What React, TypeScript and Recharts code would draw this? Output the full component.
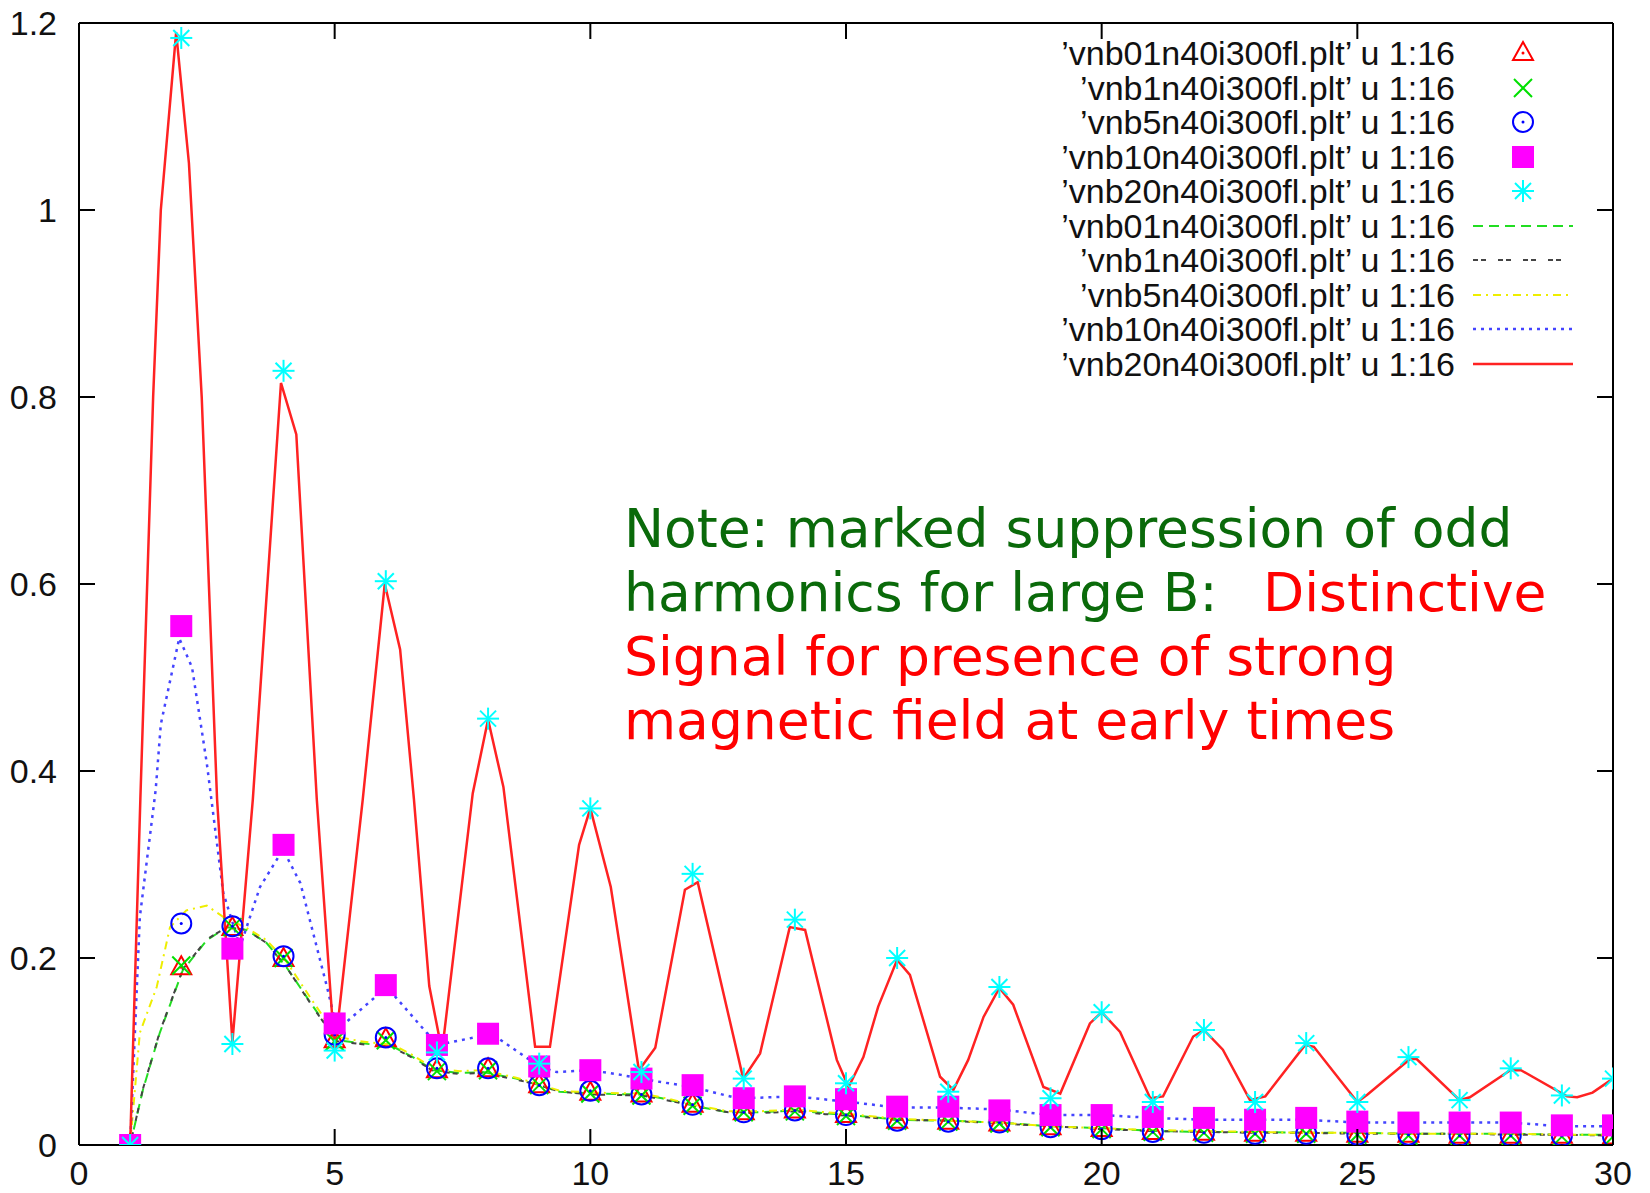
import { ComposedChart, Line, Scatter, XAxis, YAxis, Legend, Customized } from 'recharts'

// harmonic number n and v_n for each B value (markers, column 16 of each file)
const harmonic = [1, 2, 3, 4, 5, 6, 7, 8, 9, 10, 11, 12, 13, 14, 15, 16, 17, 18, 19, 20, 21, 22, 23, 24, 25, 26, 27, 28, 29, 30]
const vnb01 = [0, 0.19, 0.232, 0.199, 0.112, 0.113, 0.08, 0.081, 0.064, 0.056, 0.054, 0.043, 0.035, 0.037, 0.032, 0.026, 0.025, 0.023, 0.019, 0.017, 0.014, 0.013, 0.012, 0.012, 0.011, 0.011, 0.01, 0.01, 0.01, 0.009]
const vnb1 = [0, 0.192, 0.233, 0.2, 0.111, 0.112, 0.079, 0.08, 0.064, 0.055, 0.053, 0.042, 0.035, 0.036, 0.031, 0.026, 0.025, 0.023, 0.019, 0.017, 0.014, 0.013, 0.012, 0.012, 0.011, 0.01, 0.01, 0.01, 0.009, 0.009]
const vnb5 = [0, 0.237, 0.234, 0.202, 0.118, 0.115, 0.082, 0.082, 0.064, 0.058, 0.054, 0.043, 0.035, 0.037, 0.032, 0.026, 0.025, 0.024, 0.019, 0.017, 0.014, 0.013, 0.012, 0.012, 0.011, 0.011, 0.01, 0.01, 0.01, 0.009]
const vnb10 = [0, 0.555, 0.21, 0.321, 0.13, 0.171, 0.107, 0.119, 0.084, 0.08, 0.071, 0.064, 0.05, 0.052, 0.049, 0.041, 0.041, 0.037, 0.032, 0.032, 0.03, 0.029, 0.027, 0.029, 0.025, 0.024, 0.024, 0.024, 0.021, 0.021]
const vnb20 = [0, 1.184, 0.108, 0.828, 0.101, 0.603, 0.099, 0.456, 0.087, 0.36, 0.078, 0.29, 0.071, 0.241, 0.066, 0.2, 0.057, 0.169, 0.05, 0.142, 0.046, 0.123, 0.046, 0.109, 0.046, 0.094, 0.048, 0.082, 0.053, 0.071]

// finer line data
const lineX01 = [1, 1.25, 1.58, 2.03, 2.5, 2.89, 3.28, 3.67, 4.06, 4.58, 5.04, 5.5, 6.15, 6.53, 6.93, 7.45, 7.9, 8.55, 9, 9.4, 10.05, 11, 11.4, 12.1, 12.7, 13.3, 14, 14.6, 15.1, 16, 17, 18, 19, 20, 21, 22, 23, 24, 25, 26, 27, 28, 29, 30]
const lineY01 = [0, 0.059, 0.12, 0.187, 0.219, 0.233, 0.23, 0.216, 0.19, 0.148, 0.112, 0.109, 0.105, 0.094, 0.08, 0.077, 0.078, 0.071, 0.064, 0.057, 0.055, 0.054, 0.05, 0.041, 0.035, 0.035, 0.037, 0.034, 0.032, 0.027, 0.026, 0.024, 0.02, 0.018, 0.015, 0.014, 0.014, 0.013, 0.013, 0.012, 0.012, 0.012, 0.011, 0.011]
const lineX1 = [1, 1.25, 1.58, 2.03, 2.5, 2.89, 3.28, 3.67, 4.06, 4.58, 5.04, 5.5, 6.15, 6.53, 6.93, 7.45, 7.9, 8.55, 9, 9.4, 10.05, 11, 11.4, 12.1, 12.7, 13.3, 14, 14.6, 15.1, 16, 17, 18, 19, 20, 21, 22, 23, 24, 25, 26, 27, 28, 29, 30]
const lineY1 = [0, 0.06, 0.121, 0.188, 0.22, 0.233, 0.23, 0.216, 0.19, 0.147, 0.111, 0.108, 0.104, 0.093, 0.079, 0.076, 0.077, 0.07, 0.064, 0.057, 0.054, 0.053, 0.049, 0.041, 0.035, 0.034, 0.036, 0.033, 0.031, 0.027, 0.026, 0.023, 0.02, 0.017, 0.015, 0.014, 0.013, 0.013, 0.012, 0.012, 0.012, 0.011, 0.011, 0.01]
const lineX5 = [1, 1.19, 1.52, 1.78, 2.1, 2.5, 2.82, 3.28, 3.67, 4.06, 4.58, 5.04, 5.5, 6.15, 6.53, 6.93, 7.45, 7.9, 8.55, 9, 9.4, 10.05, 11, 11.4, 12.1, 12.7, 13.3, 14, 14.6, 15.1, 16, 17, 18, 19, 20, 21, 22, 23, 24, 25, 26, 27, 28, 29, 30]
const lineY5 = [0, 0.12, 0.169, 0.233, 0.251, 0.256, 0.244, 0.232, 0.219, 0.196, 0.153, 0.116, 0.111, 0.107, 0.096, 0.082, 0.079, 0.08, 0.072, 0.065, 0.058, 0.056, 0.055, 0.051, 0.042, 0.036, 0.036, 0.038, 0.035, 0.033, 0.028, 0.026, 0.024, 0.02, 0.018, 0.016, 0.015, 0.014, 0.013, 0.013, 0.012, 0.012, 0.012, 0.011, 0.011]
const lineX10 = [1, 1.19, 1.5, 1.6, 1.96, 2.21, 2.5, 2.82, 3.15, 3.54, 3.99, 4.33, 4.85, 5.05, 6.02, 6.8, 7.1, 8, 8.2, 9, 9.34, 10, 10.6, 11.3, 12, 12.8, 13, 14, 15.08, 16, 17, 18, 19, 20, 21, 22, 23, 24, 25, 26, 27, 28, 29, 30]
const lineY10 = [0, 0.244, 0.38, 0.45, 0.542, 0.511, 0.408, 0.27, 0.212, 0.276, 0.316, 0.28, 0.169, 0.123, 0.169, 0.12, 0.108, 0.118, 0.114, 0.084, 0.078, 0.08, 0.075, 0.068, 0.062, 0.051, 0.05, 0.052, 0.046, 0.04, 0.04, 0.038, 0.032, 0.032, 0.029, 0.027, 0.027, 0.027, 0.024, 0.024, 0.024, 0.024, 0.02, 0.02]
const lineX20 = [1, 1.2, 1.45, 1.6, 1.9, 2.15, 2.4, 2.7, 3, 3.4, 3.95, 4.25, 4.65, 5, 5.55, 5.98, 6.28, 6.55, 6.85, 7.1, 7.7, 8, 8.3, 8.92, 9.21, 9.78, 10, 10.4, 10.95, 11.27, 11.85, 12.1, 12.99, 13.32, 13.9, 14.2, 14.82, 15.05, 15.34, 15.63, 16, 16.25, 16.84, 17.1, 17.39, 17.69, 18, 18.27, 18.86, 19.19, 19.77, 20, 20.36, 20.95, 21.2, 21.79, 22, 22.37, 22.9, 23.2, 23.98, 24.15, 25, 25.2, 26.03, 26.16, 27, 27.2, 27.99, 28.2, 29.1, 29.3, 29.6, 30]
const lineY20 = [0, 0.37, 0.8, 1.0, 1.19, 1.05, 0.8, 0.37, 0.11, 0.37, 0.815, 0.76, 0.37, 0.1, 0.37, 0.6, 0.53, 0.37, 0.17, 0.1, 0.376, 0.455, 0.383, 0.105, 0.105, 0.321, 0.36, 0.276, 0.08, 0.104, 0.273, 0.281, 0.071, 0.098, 0.233, 0.23, 0.091, 0.062, 0.094, 0.148, 0.198, 0.182, 0.073, 0.059, 0.091, 0.137, 0.168, 0.15, 0.062, 0.055, 0.13, 0.142, 0.121, 0.05, 0.052, 0.116, 0.123, 0.102, 0.048, 0.052, 0.107, 0.105, 0.046, 0.054, 0.092, 0.092, 0.048, 0.051, 0.08, 0.08, 0.052, 0.051, 0.056, 0.071]

const xTicks = [0, 5, 10, 15, 20, 25, 30]
const yTicks = [0, 0.2, 0.4, 0.6, 0.8, 1, 1.2]
const files = ['vnb01n40i300fl.plt', 'vnb1n40i300fl.plt', 'vnb5n40i300fl.plt', 'vnb10n40i300fl.plt', 'vnb20n40i300fl.plt']

const pts = (xs: number[], ys: number[]) => xs.map((x, i) => ({ x, y: ys[i] }))

const FONT = '"Liberation Sans", Arial, sans-serif'
const TICK_LEN = 16

// gnuplot style: ticks point into the plot, labels outside
function BottomTick({ x, y, payload }: any) {
  return (
    <g>
      <line x1={x} x2={x} y1={y} y2={y - TICK_LEN} stroke="#000" strokeWidth={2} />
      <text x={x} y={y + 16} dy="0.72em" textAnchor="middle" fill="#111" fontSize={34} fontFamily={FONT}>{payload.value}</text>
    </g>
  )
}
function LeftTick({ x, y, payload }: any) {
  return (
    <g>
      <line x1={x} x2={x + TICK_LEN} y1={y} y2={y} stroke="#000" strokeWidth={2} />
      <text x={x - 22} y={y} dy="0.36em" textAnchor="end" fill="#111" fontSize={34} fontFamily={FONT}>{payload.value}</text>
    </g>
  )
}
function TopTick({ x, y }: any) {
  return <line x1={x} x2={x} y1={y} y2={y + TICK_LEN} stroke="#000" strokeWidth={2} />
}
function RightTick({ x, y }: any) {
  return <line x1={x} x2={x - TICK_LEN} y1={y} y2={y} stroke="#000" strokeWidth={2} />
}

function Tri({ cx, cy }: any) {
  return (
    <g>
      <polygon points={`${cx},${cy - 11} ${cx - 10},${cy + 7} ${cx + 10},${cy + 7}`} fill="none" stroke="#ff0000" strokeWidth={2} />
      <circle cx={cx} cy={cy} r={1.5} fill="#ff0000" />
    </g>
  )
}
function Cross({ cx, cy }: any) {
  return (
    <g stroke="#00e000" strokeWidth={2}>
      <line x1={cx - 9} y1={cy - 9} x2={cx + 9} y2={cy + 9} />
      <line x1={cx - 9} y1={cy + 9} x2={cx + 9} y2={cy - 9} />
    </g>
  )
}
function Ring({ cx, cy }: any) {
  return (
    <g>
      <circle cx={cx} cy={cy} r={10} fill="none" stroke="#0000ff" strokeWidth={2} />
      <circle cx={cx} cy={cy} r={1.5} fill="#0000ff" />
    </g>
  )
}
function Box({ cx, cy }: any) {
  return <rect x={cx - 11} y={cy - 11} width={22} height={22} fill="#ff00ff" />
}
function Star({ cx, cy }: any) {
  return (
    <g stroke="#00ffff" strokeWidth={2}>
      <line x1={cx} y1={cy - 11} x2={cx} y2={cy + 11} />
      <line x1={cx - 11} y1={cy} x2={cx + 11} y2={cy} />
      <line x1={cx - 8} y1={cy - 8} x2={cx + 8} y2={cy + 8} />
      <line x1={cx - 8} y1={cy + 8} x2={cx + 8} y2={cy - 8} />
    </g>
  )
}

const markerShapes = [Tri, Cross, Ring, Box, Star]
const lineStyles = [
  { stroke: '#22dd22', dash: '10 6', width: 2 },
  { stroke: '#444444', dash: '5 3 5 12', width: 2 },
  { stroke: '#eeee00', dash: '8 5 2 5', width: 2 },
  { stroke: '#4444ff', dash: '3 5', width: 2.5 },
  { stroke: '#ff2222', dash: undefined, width: 2.5 },
]

function LegendBox() {
  const rows = [...files, ...files]
  return (
    <div style={{ fontFamily: FONT, fontSize: 34, color: '#111' }}>
      {rows.map((f, i) => {
        const M = markerShapes[i]
        const s = lineStyles[i - 5]
        return (
          <div key={i} style={{ display: 'flex', alignItems: 'center', height: 34.5, lineHeight: '34.5px' }}>
            <span style={{ width: 415, textAlign: 'right', whiteSpace: 'nowrap' }}>{`\u2019${f}\u2019 u 1:16`}</span>
            <svg width={140} height={34.5}>
              {i < 5 ? (
                <M cx={68} cy={17} />
              ) : (
                <line x1={18} x2={118} y1={17} y2={17} stroke={s.stroke} strokeWidth={s.width} strokeDasharray={s.dash} />
              )}
            </svg>
          </div>
        )
      })}
    </div>
  )
}

function Note() {
  const green = '#0a6a0a'
  const red = '#ff0000'
  const style = { fontFamily: '"DejaVu Sans", Verdana, sans-serif', fontSize: 53.5 }
  return (
    <g style={style}>
      <text x={624} y={547} fill={green}>Note: marked suppression of odd</text>
      <text x={624} y={611} fill={green}>
        harmonics for large B:
        <tspan x={1263} fill={red}>Distinctive</tspan>
      </text>
      <text x={624} y={675} fill={red}>Signal for presence of strong</text>
      <text x={624} y={739} fill={red}>magnetic field at early times</text>
    </g>
  )
}

export default function App() {
  const markerData = [vnb01, vnb1, vnb5, vnb10, vnb20]
  const lineData = [
    pts(lineX01, lineY01),
    pts(lineX1, lineY1),
    pts(lineX5, lineY5),
    pts(lineX10, lineY10),
    pts(lineX20, lineY20),
  ]
  const axisLine = { stroke: '#000', strokeWidth: 2 }

  return (
    <div style={{ position: 'absolute', left: 0, top: 0, width: 1650, height: 1193, background: '#fff', overflow: 'hidden' }}>
      <ComposedChart width={1650} height={1193} margin={{ top: 22, right: 36, bottom: 0, left: 0 }}>
        <XAxis type="number" dataKey="x" domain={[0, 30]} ticks={xTicks} interval={0} allowDataOverflow height={48}
          tickSize={0} tickMargin={0} axisLine={axisLine} tickLine={false} tick={<BottomTick />} />
        <XAxis xAxisId="top" orientation="top" type="number" dataKey="x" domain={[0, 30]} ticks={xTicks} interval={0}
          allowDataOverflow height={1} tickSize={0} tickMargin={0} axisLine={axisLine} tickLine={false} tick={<TopTick />} />
        <YAxis type="number" domain={[0, 1.2]} ticks={yTicks} interval={0} allowDataOverflow width={79}
          tickSize={0} tickMargin={0} axisLine={axisLine} tickLine={false} tick={<LeftTick />} />
        <YAxis yAxisId="right" orientation="right" type="number" domain={[0, 1.2]} ticks={yTicks} interval={0}
          allowDataOverflow width={1} tickSize={0} tickMargin={0} axisLine={axisLine} tickLine={false} tick={<RightTick />} />

        {markerData.map((vals, i) => (
          <Scatter key={files[i] + 'p'} name={files[i]} data={pts(harmonic, vals)} dataKey="y"
            shape={markerShapes[i]} isAnimationActive={false} />
        ))}

        {lineData.map((d, i) => (
          <Line key={files[i] + 'l'} name={files[i]} data={d} dataKey="y" type="linear" dot={false}
            stroke={lineStyles[i].stroke} strokeWidth={lineStyles[i].width} strokeDasharray={lineStyles[i].dash}
            isAnimationActive={false} />
        ))}

        <Legend layout="horizontal" verticalAlign="middle" align="center" content={<LegendBox />}
          wrapperStyle={{ left: 1040, top: 36, width: 560 }} />
        <Customized component={Note} />
      </ComposedChart>
    </div>
  )
}
